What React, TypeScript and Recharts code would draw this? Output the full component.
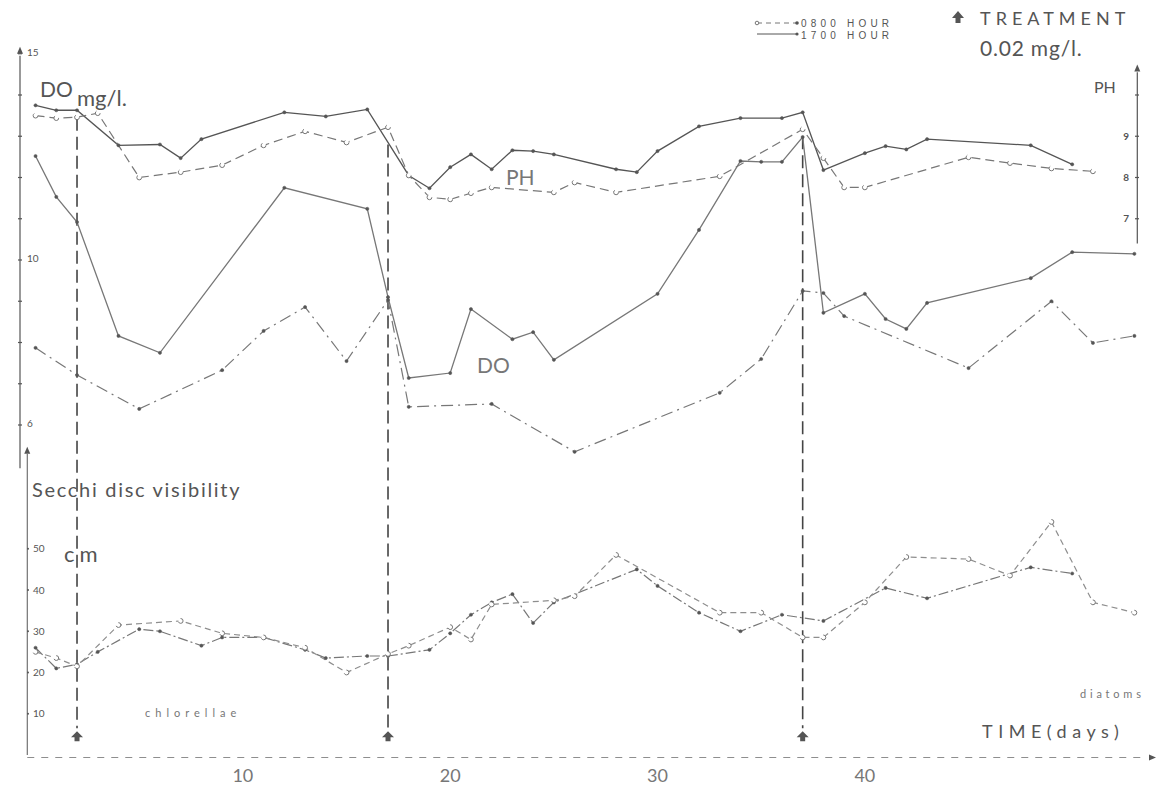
import React from "react";
import { LineChart, Line, XAxis, YAxis, ReferenceLine, ReferenceDot, Legend } from "recharts";

const W = 1158;
const H = 785;
const ink = "#555";
const mid = "#777";
const pale = "#8e8e8e";
const font = "Lato, 'DejaVu Sans', sans-serif";

// pH, 0800 hour (dashed) and 1700 hour (solid)
const phAmDays = [0, 1, 2, 3, 5, 7, 9, 11, 13, 15, 17, 18, 19, 20, 21, 22, 25, 26, 28, 33, 37, 38, 39, 40, 45, 47, 49, 51];
const phAmValues = [9.5, 9.44, 9.46, 9.56, 8.0, 8.13, 8.3, 8.78, 9.12, 8.85, 9.22, 8.05, 7.52, 7.47, 7.62, 7.76, 7.64, 7.88, 7.64, 8.03, 9.17, 8.47, 7.76, 7.76, 8.49, 8.35, 8.22, 8.15];
const phPmDays = [0, 1, 2, 4, 6, 7, 8, 12, 14, 16, 18, 19, 20, 21, 22, 23, 24, 25, 28, 29, 30, 32, 34, 36, 37, 38, 40, 41, 42, 43, 48, 50];
const phPmValues = [9.75, 9.63, 9.63, 8.78, 8.8, 8.47, 8.93, 9.58, 9.48, 9.65, 8.05, 7.74, 8.25, 8.56, 8.2, 8.66, 8.64, 8.56, 8.2, 8.13, 8.64, 9.24, 9.44, 9.44, 9.58, 8.18, 8.59, 8.76, 8.68, 8.93, 8.78, 8.32];

// dissolved oxygen, mg/l
const doAmDays = [0, 2, 5, 9, 11, 13, 15, 17, 18, 22, 26, 33, 35, 37, 38, 39, 45, 49, 51, 53];
const doAmValues = [7.87, 7.21, 6.39, 7.33, 8.28, 8.86, 7.55, 9.03, 6.44, 6.51, 5.35, 6.78, 7.6, 9.25, 9.2, 8.64, 7.38, 9.0, 7.99, 8.16];
const doPmDays = [0, 1, 2, 4, 6, 12, 16, 17, 18, 20, 21, 23, 24, 25, 30, 32, 34, 35, 36, 37, 38, 40, 41, 42, 43, 48, 50, 53];
const doPmValues = [12.52, 11.53, 10.92, 8.16, 7.75, 11.75, 11.24, 9.1, 7.14, 7.26, 8.81, 8.08, 8.25, 7.58, 9.18, 10.73, 12.4, 12.38, 12.38, 12.98, 8.72, 9.18, 8.57, 8.33, 8.96, 9.56, 10.19, 10.15];

// Secchi disc visibility, cm
const secAmDays = [0, 1, 2, 4, 7, 9, 11, 13, 15, 17, 18, 20, 21, 22, 25, 26, 28, 33, 35, 37, 38, 40, 42, 45, 47, 49, 51, 53];
const secAmValues = [25, 23.5, 21.5, 31.5, 32.5, 29.5, 28.5, 26, 20, 24.5, 26.5, 31, 28, 36.5, 37.5, 38.5, 48.5, 34.5, 34.5, 28.5, 28.5, 37, 48, 47.5, 43.5, 56.5, 37, 34.5];
const secPmDays = [0, 1, 2, 3, 5, 6, 8, 9, 11, 13, 14, 16, 17, 19, 20, 21, 22, 23, 24, 25, 29, 30, 32, 34, 36, 38, 41, 43, 48, 50];
const secPmValues = [26, 21, 22, 25, 30.5, 30, 26.5, 28.5, 28.5, 25.5, 23.5, 24, 24, 25.5, 29.5, 34, 37, 39, 32, 37, 45, 41, 34.5, 30, 34, 32.5, 40.5, 38, 45.5, 44];

const treatmentDays = [2, 17, 37];
const treatmentTops = [13.45, 12.8, 13.0];

const timeTicks = [10, 20, 30, 40];
const doTicks = [6, 7, 8, 9, 10, 11, 12, 13, 14, 15];
const doLabels = [6, 10, 15];
const phTicks = [7, 8, 9, 10];
const phLabels = [7, 8, 9];
const secchiTicks = [10, 20, 30, 40, 50];

const zip = (days: number[], vals: number[]) => days.map((day, i) => ({ day, v: vals[i] }));

const phAm = zip(phAmDays, phAmValues);
const phPm = zip(phPmDays, phPmValues);
const doAm = zip(doAmDays, doAmValues);
const doPm = zip(doPmDays, doPmValues);
const secAm = zip(secAmDays, secAmValues);
const secPm = zip(secPmDays, secPmValues);

const openDot = { r: 2.4, fill: "#fff", stroke: mid, strokeWidth: 1 };
const solidDot = { r: 1.6, fill: ink, stroke: ink, strokeWidth: 0.5 };

const DoTick = (p: any) => (
  <g>
    <line x1={18} x2={22} y1={p.y} y2={p.y} stroke={ink} strokeWidth={1.2} />
    {doLabels.includes(p.payload.value) && (
      <text x={27} y={p.y} dy={2} fontSize={10} fill={ink} fontFamily={font}>
        {p.payload.value}
      </text>
    )}
  </g>
);

const SecchiTick = (p: any) => (
  <g>
    <circle cx={28} cy={p.y} r={1} fill={ink} />
    <text x={33} y={p.y} dy={3.5} fontSize={10} fill={ink} fontFamily={font}>
      {p.payload.value}
    </text>
  </g>
);

const PhTick = (p: any) => (
  <g>
    <line x1={1135} x2={1139} y1={p.y} y2={p.y} stroke={ink} strokeWidth={1.2} />
    {phLabels.includes(p.payload.value) && (
      <text x={1129} y={p.y} dy={3.5} fontSize={10} fontWeight={700} fill={ink} textAnchor="end" fontFamily={font}>
        {p.payload.value}
      </text>
    )}
  </g>
);

const upHead = (p: any) => (
  <polygon points={`${p.cx},${p.cy - 5} ${p.cx - 3},${p.cy + 2} ${p.cx + 3},${p.cy + 2}`} fill={ink} />
);
const rightHead = (p: any) => (
  <polygon points={`${p.cx + 5},${p.cy} ${p.cx - 2},${p.cy - 3} ${p.cx - 2},${p.cy + 3}`} fill={ink} />
);
const treatArrow = (p: any) => (
  <polygon
    points={`${p.cx},${p.cy - 6} ${p.cx - 6},${p.cy} ${p.cx - 2.5},${p.cy} ${p.cx - 2.5},${p.cy + 4} ${p.cx + 2.5},${p.cy + 4} ${p.cx + 2.5},${p.cy} ${p.cx + 6},${p.cy}`}
    fill={ink}
  />
);

const keyFont = "'Liberation Sans', Arial, sans-serif";
const LegendKey = () => (
  <svg width={150} height={30}>
    <line x1={4} x2={44} y1={9} y2={9} stroke={mid} strokeWidth={1} strokeDasharray="5 4" />
    <circle cx={4} cy={9} r={1.8} fill="#fff" stroke={mid} />
    <circle cx={44} cy={9} r={1.8} fill={ink} />
    <line x1={4} x2={44} y1={20} y2={20} stroke={ink} strokeWidth={1} />
    <circle cx={44} cy={20} r={1.6} fill={ink} />
    <text x={48} y={12.5} fontSize={10} fill={ink} fontFamily={keyFont} letterSpacing={4.2}>
      0800 HOUR
    </text>
    <text x={48} y={24.5} fontSize={10} fill={ink} fontFamily={keyFont} letterSpacing={4.2}>
      1700 HOUR
    </text>
  </svg>
);

export default function App() {
  return (
    <div style={{ position: "absolute", left: 0, top: 0, width: W, height: H, background: "#fff" }}>
      <LineChart width={W} height={H} margin={{ top: 12.5, right: 20.7, bottom: 0, left: 20 }}>
        <XAxis
          type="number"
          dataKey="day"
          domain={[-0.75, 53.14]}
          ticks={timeTicks}
          axisLine={false}
          tickLine={false}
          height={30}
          tickMargin={8}
          tick={{ fontSize: 18, fill: mid, fontFamily: font }}
        />
        <YAxis yAxisId="do" domain={[-2, 16]} width={1} mirror ticks={doTicks} interval={0} axisLine={false} tickLine={false} tick={DoTick} />
        <YAxis yAxisId="secchi" domain={[0, 180]} width={1} mirror ticks={secchiTicks} interval={0} axisLine={false} tickLine={false} tick={SecchiTick} />
        <YAxis yAxisId="ph" orientation="right" domain={[-6, 12]} width={1} mirror ticks={phTicks} interval={0} axisLine={false} tickLine={false} tick={PhTick} />

        <Legend
          layout="vertical"
          align="center"
          verticalAlign="middle"
          wrapperStyle={{ position: "absolute", left: 753, top: 14, width: 150, height: 30 }}
          content={() => <LegendKey />}
        />

        {/* axis lines drawn as segments so they stop where the printed axes stop */}
        <ReferenceLine yAxisId="do" segment={[{ x: -0.75, y: 4.95 }, { x: -0.75, y: 14.95 }]} stroke={ink} strokeWidth={1.2} ifOverflow="visible" />
        <ReferenceDot yAxisId="do" x={-0.75} y={15.05} ifOverflow="visible" shape={upHead} />
        <ReferenceLine yAxisId="secchi" segment={[{ x: -0.4, y: 0 }, { x: -0.4, y: 73 }]} stroke={ink} strokeWidth={1} ifOverflow="visible" />
        <ReferenceDot yAxisId="secchi" x={-0.4} y={73.5} ifOverflow="visible" shape={upHead} />
        <ReferenceLine yAxisId="ph" segment={[{ x: 53.14, y: 6.4 }, { x: 53.14, y: 10.55 }]} stroke={ink} strokeWidth={1.2} ifOverflow="visible" />
        <ReferenceDot yAxisId="ph" x={53.14} y={10.62} ifOverflow="visible" shape={upHead} />
        <ReferenceLine yAxisId="secchi" segment={[{ x: -0.4, y: -0.6 }, { x: 53.6, y: -0.6 }]} stroke={pale} strokeWidth={1.2} strokeDasharray="7 7" ifOverflow="visible" />
        <ReferenceDot yAxisId="secchi" x={53.8} y={-0.6} ifOverflow="visible" shape={rightHead} />

        {treatmentDays.map((d, i) => (
          <ReferenceLine
            key={"t" + d}
            yAxisId="do"
            segment={[{ x: d, y: treatmentTops[i] }, { x: d, y: -1.35 }]}
            stroke="#444"
            strokeWidth={1.6}
            strokeDasharray="13 6"
            ifOverflow="visible"
          />
        ))}
        {treatmentDays.map((d) => (
          <ReferenceDot key={"a" + d} yAxisId="secchi" x={d} y={4.3} ifOverflow="visible" shape={treatArrow} />
        ))}

        <Line yAxisId="ph" data={phPm} dataKey="v" stroke={ink} strokeWidth={1.3} dot={solidDot} isAnimationActive={false} />
        <Line yAxisId="ph" data={phAm} dataKey="v" stroke={mid} strokeWidth={1.2} strokeDasharray="9 5" dot={openDot} isAnimationActive={false} />
        <Line yAxisId="do" data={doPm} dataKey="v" stroke={mid} strokeWidth={1.3} dot={solidDot} isAnimationActive={false} />
        <Line yAxisId="do" data={doAm} dataKey="v" stroke={mid} strokeWidth={1.2} strokeDasharray="12 5 2 5" dot={solidDot} isAnimationActive={false} />
        <Line yAxisId="secchi" data={secPm} dataKey="v" stroke={mid} strokeWidth={1.2} strokeDasharray="10 3 2 3" dot={solidDot} isAnimationActive={false} />
        <Line yAxisId="secchi" data={secAm} dataKey="v" stroke={pale} strokeWidth={1.2} strokeDasharray="6 4" dot={openDot} isAnimationActive={false} />
      </LineChart>

      <svg width={W} height={H} style={{ position: "absolute", left: 0, top: 0, pointerEvents: "none" }} fontFamily={font} fill={ink}>
        <text x={40} y={97} fontSize={21}>DO</text>
        <text x={77} y={106} fontSize={22}>mg/l.</text>
        <text x={506} y={185} fontSize={21} fill={mid}>PH</text>
        <text x={1094} y={93} fontSize={16}>PH</text>
        <text x={477} y={373} fontSize={21} fill={mid}>DO</text>
        <polygon points="958,11 952,18 955.5,18 955.5,23 960.5,23 960.5,18 964,18" fill={ink} />
        <text x={980} y={25} fontSize={18} letterSpacing={5}>TREATMENT</text>
        <text x={980} y={56} fontSize={21} letterSpacing={0.8}>0.02 mg/l.</text>
        <text x={32} y={497} fontSize={20} letterSpacing={1.7}>Secchi disc visibility</text>
        <text x={64} y={562} fontSize={22} letterSpacing={5}>cm</text>
        <text x={145} y={717} fontSize={11} letterSpacing={5} fill={mid}>chlorellae</text>
        <text x={1080} y={698} fontSize={11} letterSpacing={3.8} fill={mid}>diatoms</text>
        <text x={982} y={738} fontSize={18} letterSpacing={5.5}>TIME(days)</text>
      </svg>
    </div>
  );
}
